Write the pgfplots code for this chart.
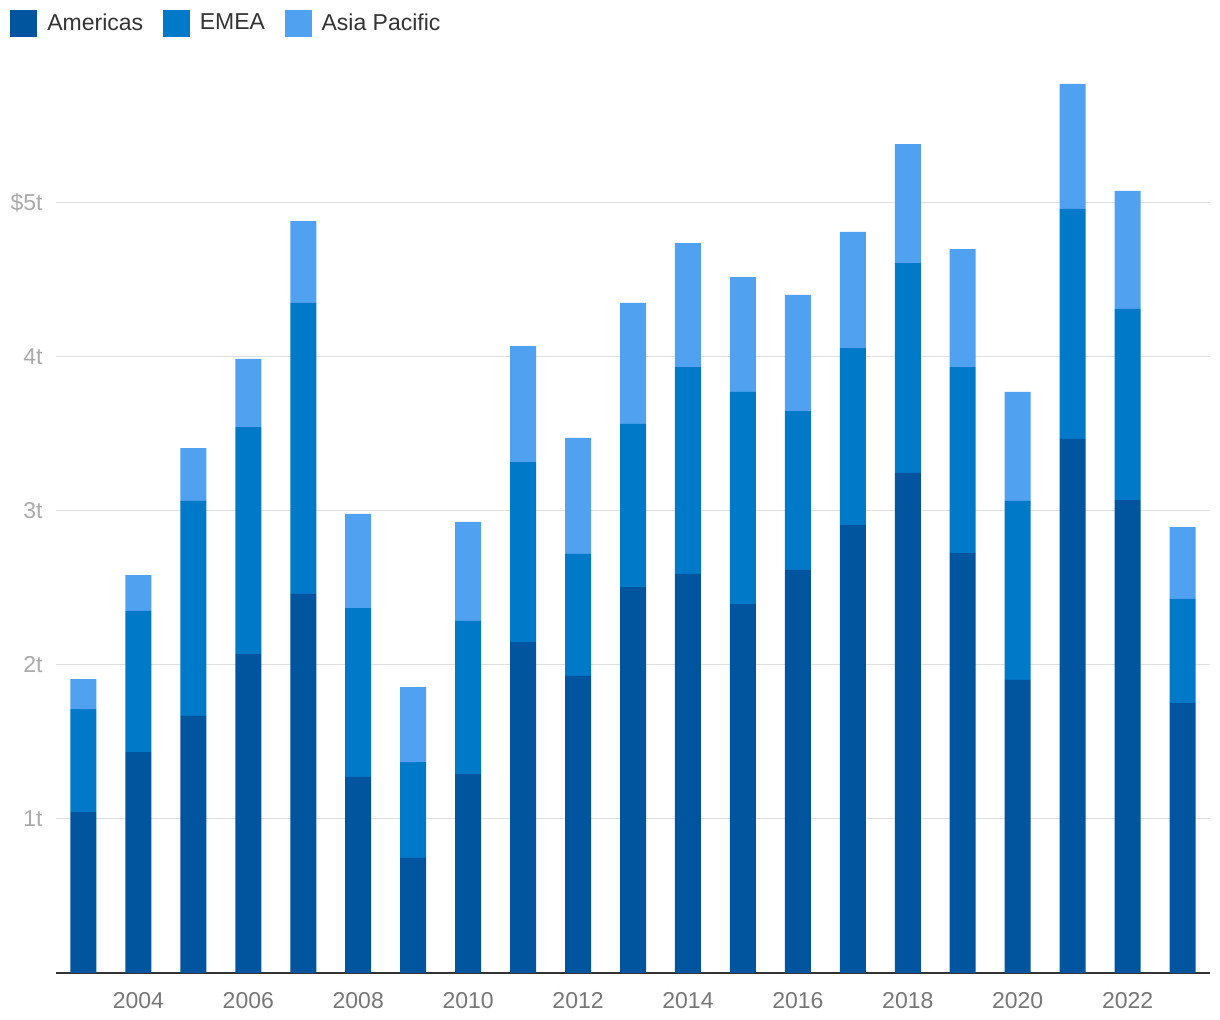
\documentclass[border=0pt]{standalone}
\usepackage{pgfplots}
\pgfplotsset{compat=1.18}
\usepackage{fontspec}
\setmainfont{Liberation Sans}
\definecolor{cam}{RGB}{0,85,158}
\definecolor{cem}{RGB}{0,121,200}
\definecolor{cap}{RGB}{80,161,240}
\definecolor{axisc}{RGB}{51,51,51}
\definecolor{xlab}{RGB}{119,119,119}
\definecolor{ylab}{RGB}{170,170,170}
\definecolor{gridc}{RGB}{224,224,224}
\definecolor{legt}{RGB}{51,51,51}
\pgfplotstableread{
year am em ap
2003 1.045 0.669 0.195
2004 1.435 0.916 0.233
2005 1.669 1.396 0.344
2006 2.071 1.474 0.442
2007 2.461 1.890 0.532
2008 1.273 1.097 0.611
2009 0.747 0.623 0.487
2010 1.292 0.994 0.643
2011 2.149 1.169 0.753
2012 1.929 0.792 0.753
2013 2.506 1.059 0.786
2014 2.591 1.344 0.805
2015 2.396 1.377 0.746
2016 2.617 1.032 0.754
2017 2.909 1.149 0.754
2018 3.247 1.363 0.773
2019 2.727 1.208 0.766
2020 1.903 1.162 0.708
2021 3.468 1.493 0.812
2022 3.071 1.241 0.766
2023 1.753 0.676 0.467
}\datatable
\begin{document}
\begin{tikzpicture}
\path[use as bounding box] (0,0) rectangle (610pt,510pt);
\begin{axis}[
  at={(28pt,23.5pt)}, anchor=south west,
  scale only axis, width=577pt, height=454.3pt,
  xmin=2002.5, xmax=2023.5, ymin=0, ymax=5.9,
  ybar stacked, bar width=13pt,
  axis lines*=left,
  y axis line style={draw=none},
  x axis line style={-, draw=axisc, line width=1pt},
  major tick length=0pt,
  ymajorgrids, grid style={draw=gridc, line width=0.5pt},
  xtick={2004,2006,...,2022},
  xticklabels={2004,2006,2008,2010,2012,2014,2016,2018,2020,2022},
  ytick={1,2,3,4,5},
  yticklabels={1t,2t,3t,4t,\$5t},
  xticklabel style={anchor=north, inner sep=0pt, yshift=-9.5pt, text=xlab, font=\fontsize{11.5}{13}\selectfont},
  yticklabel style={anchor=east, inner sep=0pt, xshift=-6.5pt, text=ylab, font=\fontsize{11.5}{13}\selectfont},
  legend columns=-1,
  legend style={at={(axis description cs:-0.0399,1.045)}, anchor=west, draw=none, fill=none, inner sep=0pt,
    font=\fontsize{11.5}{13}\selectfont, text=legt,
    nodes={inner sep=0pt},
    /tikz/every odd column/.append style={column sep=5pt},
    /tikz/every even column/.append style={column sep=9.8pt}},
]
\addplot[fill=cam, draw=none, legend image code/.code={\path[fill=cam] (0pt,-6.75pt) rectangle (13.5pt,6.75pt);}] table[x=year,y=am] {\datatable};
\addplot[fill=cem, draw=none, legend image code/.code={\path[fill=cem] (0pt,-6.75pt) rectangle (13.5pt,6.75pt);}] table[x=year,y=em] {\datatable};
\addplot[fill=cap, draw=none, legend image code/.code={\path[fill=cap] (0pt,-6.75pt) rectangle (13.5pt,6.75pt);}] table[x=year,y=ap] {\datatable};
\legend{Americas,EMEA,Asia Pacific}
\end{axis}
\end{tikzpicture}
\end{document}
